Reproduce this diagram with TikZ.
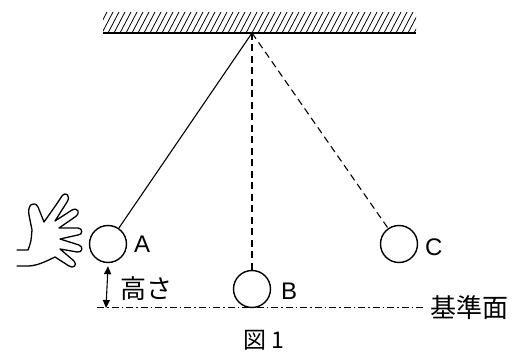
\documentclass[tikz,border=0pt]{standalone}
\usepackage{fontspec}
\setmainfont{Liberation Sans}
\newfontfamily\jpfont{Noto Sans CJK JP}
\usetikzlibrary{arrows.meta}

\begin{document}
\begin{tikzpicture}[x=1pt,y=-1pt,
    ball/.style={circle,draw,line width=1.4pt,minimum size=37pt,inner sep=0pt},
    lbl/.style={font=\fontsize{24}{24}\selectfont,inner sep=0pt},
    jlbl/.style={font=\jpfont\fontsize{26}{26}\selectfont,inner sep=0pt},
    swing/.style={line width=1.1pt,dash pattern=on 7pt off 4.5pt},
    hand/.style={line width=1.3pt,line join=round,line cap=round}]

    \useasboundingbox (0,0) rectangle (528,352);

    %draw ceiling
    \begin{scope}
    \clip (103,12) rectangle (416,33);
    \foreach \x in {90,96,...,420}
        \draw[line width=0.8pt] (\x,33) -- (\x+11,12);
    \end{scope}
    \draw[line width=1.3pt] (103,33) -- (416,33);
    \coordinate (pivot) at (252,33);

    %draw balls
    \node[ball] (A) at (108,244) {};
    \node[ball] (B) at (252,289) {};
    \node[ball] (C) at (399,244) {};

    %draw strings
    \draw[line width=1.1pt] (pivot) -- (A);
    \draw[swing] (pivot) -- (B);
    \draw[swing] (pivot) -- (C);

    %draw ball labels
    \node[lbl,anchor=west] (labA) at (134,244) {A};
    \node[lbl,anchor=west] (labB) at (281,291) {B};
    \node[lbl,anchor=west] (labC) at (425,247) {C};

    %draw reference level
    \coordinate (left) at (97,308);
    \coordinate (right) at (424,308);
    \draw[line width=1pt,dash pattern=on 7pt off 3pt on 1.5pt off 3pt] (left) -- (right);
    \node[jlbl,anchor=west] (level) at (430,308) {基準面};

    %draw height
    \coordinate (ground) at (106,308);
    \draw[line width=1.1pt,{Triangle[length=8pt,width=7pt]}-{Triangle[length=8pt,width=7pt]}]
        ([yshift=-3pt]A.south) -- (ground);
    \node[jlbl,anchor=west] (height) at (120,289) {高さ};

    %draw caption
    \node[jlbl,font=\jpfont\fontsize{23}{23}\selectfont] (cap) at (264,340) {図 1};

    %draw hand
    \draw[hand] (17,250) -- (28,250) .. controls (31,242) .. (32,230)
        -- (29,215) .. controls (27,205) and (34,200) .. (38,207) -- (44,222)
        -- (56,205) -- (62,196) .. controls (66,191) and (71,196) .. (67,202) -- (55,221)
        -- (72,210) .. controls (78,207) and (81,213) .. (75,217) -- (59,228)
        -- (78,228) .. controls (83,228) and (83,235) .. (78,235) -- (60,239)
        -- (79,245) .. controls (84,247) and (82,253) .. (77,252) -- (60,249)
        -- (74,261) .. controls (78,265) and (73,269) .. (69,266) -- (55,257)
        .. controls (45,262) and (36,266) .. (28,266) -- (17,266);

\end{tikzpicture}
\end{document}
